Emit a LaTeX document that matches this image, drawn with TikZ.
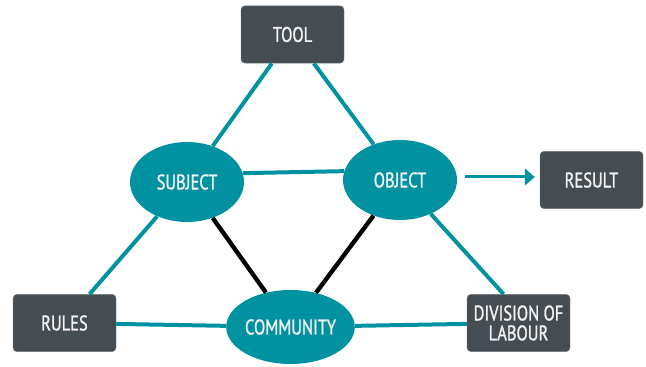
\documentclass[tikz,border=0pt]{standalone}
\usepackage{fontspec}
\setmainfont[FakeStretch=0.78, FakeBold=1.2]{PT Sans}
\usepackage{tikz}
\usetikzlibrary{arrows.meta,shapes.geometric}

\definecolor{actteal}{RGB}{0,146,160}
\definecolor{boxgrey}{RGB}{69,76,82}
\definecolor{boxtext}{RGB}{242,242,242}
\newcommand{\labelfont}{\fontsize{18}{17}\selectfont}

\tikzset{
	box/.style={draw=boxgrey!75!white, line width=0.4pt, fill=boxgrey, rounded corners=0.12cm,
		minimum width=3.09cm, minimum height=1.72cm, text=boxtext, align=center, font=\labelfont},
	blob/.style={ellipse, fill=actteal, minimum width=3.42cm, minimum height=2.4cm,
		inner sep=0pt, text=boxtext, font=\labelfont},
	link/.style={actteal, line width=0.12cm},
	tie/.style={black, line width=0.13cm},
}

\begin{document}
\begin{tikzpicture}
		%%%%% START %%%%%
		\useasboundingbox (0, 0) rectangle (19.38, 11.01);
		
		\node[box] (tool) at (8.775, 9.975) {TOOL};
		\node[blob] (subject) at (5.61, 5.55) {SUBJECT};
		\node[blob] (object) at (12.0, 5.61) {OBJECT};
		\node[box] (result) at (17.745, 5.61) {RESULT};
		\node[box] (rules) at (1.935, 1.32) {RULES};
		\node[blob, minimum width=3.45cm, minimum height=2.22cm] (community) at (8.715, 1.2) {COMMUNITY};
		\node[box] (division) at (15.555, 1.32) {DIVISION OF\\LABOUR};
		
		\draw[link] (tool) -- (subject);
		\draw[link] (tool) -- (object);
		\draw[link] (subject.9) -- (object.171);
		\draw[link] (subject) -- (rules);
		\draw[link] (object) -- ([xshift=-0.45cm]division.north);
		\draw[link] (rules) -- (community);
		\draw[link] (community) -- (division);
		
		\draw[tie] (subject) -- (community);
		\draw[tie] (object) -- (community);
		
		\draw[link, line width=0.09cm, -{Triangle[length=0.3cm, width=0.5cm]}]
			([shift={(0.24, 0.09)}]object.east) -- ([shift={(-0.15, 0.09)}]result.west);
		%%%%% END %%%%%
	\end{tikzpicture}
\end{document}
